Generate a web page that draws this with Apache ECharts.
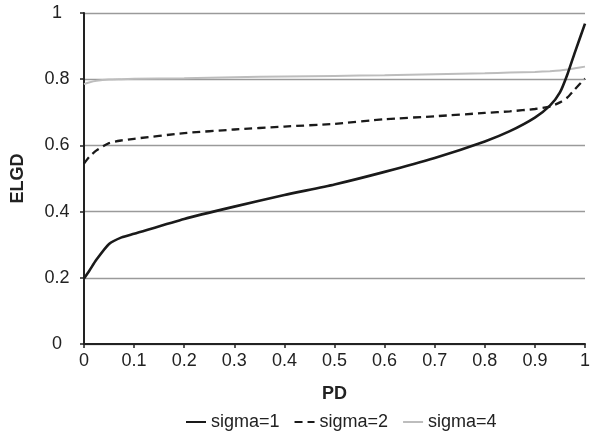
<!DOCTYPE html>
<html>
<head>
<meta charset="utf-8">
<script src="https://cdn.jsdelivr.net/npm/echarts@6/dist/echarts.min.js"></script>
<style>
  html, body { margin: 0; padding: 0; background: #fff; }
  #chart { width: 595px; height: 436px; }
</style>
</head>
<body>
<div id="chart"></div>
<script>
const pd = [0, 0.01, 0.025, 0.05, 0.075, 0.1, 0.2, 0.3, 0.4, 0.5, 0.6, 0.7, 0.8, 0.85, 0.9, 0.93, 0.95, 0.965, 0.98, 1]
const sigma1 = [0.198, 0.22, 0.255, 0.302, 0.322, 0.333, 0.378, 0.415, 0.45, 0.482, 0.52, 0.562, 0.612, 0.643, 0.684, 0.72, 0.76, 0.815, 0.882, 0.968]
const sigma2 = [0.545, 0.565, 0.585, 0.607, 0.615, 0.62, 0.637, 0.648, 0.657, 0.665, 0.679, 0.688, 0.698, 0.703, 0.71, 0.717, 0.73, 0.745, 0.77, 0.802]
const sigma4 = [0.785, 0.79, 0.795, 0.799, 0.8, 0.801, 0.803, 0.806, 0.808, 0.81, 0.812, 0.815, 0.818, 0.82, 0.822, 0.824, 0.826, 0.829, 0.833, 0.838]

const font = 'Liberation Sans, Arial, sans-serif'
const pairs = ys => pd.map((x, i) => [x, ys[i]])

const line = (name, ys, color, width, type) => ({
  name,
  type: 'line',
  data: pairs(ys),
  showSymbol: false,
  symbol: 'none',
  smooth: 0.2,
  lineStyle: { color, width, type },
  itemStyle: { color },
  z: name === 'sigma=4' ? 1 : 3
})

const chart = echarts.init(document.getElementById('chart'))
chart.setOption({
  animation: false,
  textStyle: { fontFamily: font },
  grid: { left: 84, right: 10, top: 13, bottom: 92 },
  legend: {
    bottom: 0,
    left: 180,
    itemWidth: 20,
    itemHeight: 10,
    itemGap: 14,
    itemStyle: { opacity: 0 },
    textStyle: { fontSize: 18, color: '#222', fontFamily: font },
    data: ['sigma=1', 'sigma=2', 'sigma=4']
  },
  xAxis: {
    type: 'value',
    min: 0,
    max: 1,
    interval: 0.1,
    name: 'PD',
    nameLocation: 'middle',
    nameGap: 41,
    nameTextStyle: { fontSize: 18, fontWeight: 'bold', color: '#222', fontFamily: font },
    axisLine: { lineStyle: { color: '#222', width: 2 } },
    axisTick: { length: 4, lineStyle: { color: '#222', width: 1.5 } },
    axisLabel: { fontSize: 18, color: '#222', margin: 8, fontFamily: font },
    splitLine: { show: false }
  },
  yAxis: {
    type: 'value',
    min: 0,
    max: 1,
    interval: 0.2,
    name: 'ELGD',
    nameLocation: 'middle',
    nameGap: 57,
    nameTextStyle: { fontSize: 18, fontWeight: 'bold', color: '#222', fontFamily: font },
    axisLine: { show: true, lineStyle: { color: '#222', width: 2 } },
    axisTick: { show: true, length: 4, lineStyle: { color: '#222', width: 1.5 } },
    axisLabel: { fontSize: 18, color: '#222', margin: 27, align: 'center', fontFamily: font },
    splitLine: { show: true, lineStyle: { color: '#9a9a9a', width: 1.3 } }
  },
  series: [
    line('sigma=1', sigma1, '#1a1a1a', 2.6, 'solid'),
    line('sigma=2', sigma2, '#1a1a1a', 2.3, [8, 5]),
    line('sigma=4', sigma4, '#bdbdbd', 2, 'solid')
  ]
})
</script>
</body>
</html>
